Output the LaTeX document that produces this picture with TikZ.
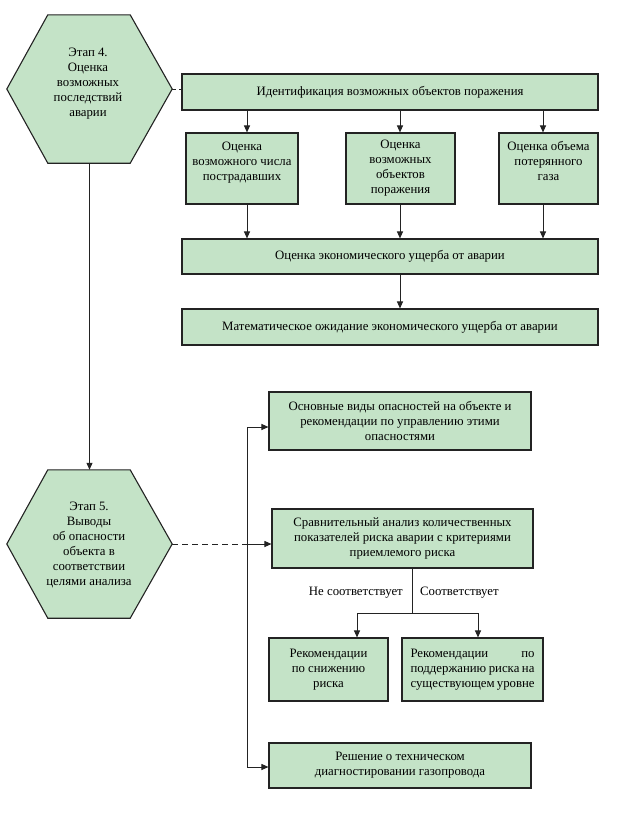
\documentclass[tikz,border=0pt]{standalone}
\usepackage{fontspec}
\setmainfont{Liberation Serif}
\usetikzlibrary{arrows.meta,calc}
\definecolor{boxgreen}{RGB}{196,227,199}
\definecolor{edge}{RGB}{35,35,35}
\tikzset{
  box/.style={draw=edge, line width=1.1pt, fill=boxgreen, align=center, inner sep=2pt,
    font=\fontsize{12.8}{15}\selectfont},
  hexbox/.style={draw=none, minimum width=165pt, minimum height=148pt, inner sep=0pt},
  hexline/.style={draw=edge, line width=1.1pt, fill=boxgreen},
  arr/.style={draw=edge, line width=1pt, -{Triangle[length=7pt,width=6pt]}},
  ln/.style={draw=edge, line width=1pt},
  dsh/.style={draw=edge, line width=1pt, dash pattern=on 6pt off 4pt},
  lbl/.style={font=\fontsize{12.8}{15}\selectfont, inner sep=0pt}
}
\begin{document}
\begin{tikzpicture}[x=1pt,y=-1pt]
\useasboundingbox (0,0) rectangle (624,825);
% hexagons
\node[hexbox] (h4) at (89.5,89) {};
\node[hexbox] (h5) at (89.5,544) {};
\foreach \h in {h4,h5}{
  \draw[hexline] (\h.west) -- ($(\h.north west)+(41,0)$) -- ($(\h.north east)+(-42,0)$)
    -- (\h.east) -- ($(\h.south east)+(-42,0)$) -- ($(\h.south west)+(41,0)$) -- cycle;
}
\node[lbl, align=center] (t4) at (88,84) {Этап 4.\\Оценка\\возможных\\последствий\\аварии};
\node[lbl, align=center] (t5) at (89,545) {Этап 5.\\Выводы\\об опасности\\объекта в\\соответствии\\целями анализа};

% upper boxes
\node[box, minimum width=416pt, minimum height=36pt] (ident) at (390,92) {Идентификация возможных объектов поражения};
\node[box, minimum width=112pt, minimum height=71pt] (b1) at (242,168.5) {Оценка\\возможного числа\\пострадавших\\\mbox{}};
\node[box, minimum width=109pt, minimum height=71pt] (b2) at (400.5,168.5) {Оценка\\возможных\\объектов\\поражения};
\node[box, minimum width=99pt, minimum height=71pt] (b3) at (548.5,168.5) {Оценка объема\\потерянного\\газа\\\mbox{}};
\node[box, minimum width=416pt, minimum height=35pt] (econ) at (390,256.5) {Оценка экономического ущерба от аварии};
\node[box, minimum width=416pt, minimum height=36pt] (math) at (390,327) {Математическое ожидание экономического ущерба от аварии};

% lower boxes
\node[box, minimum width=262pt, minimum height=58pt] (osn) at (400,421) {Основные виды опасностей на объекте и\\рекомендации по управлению этими\\опасностями};
\node[box, minimum width=261pt, minimum height=59pt] (sr) at (402.5,538.5) {Сравнительный анализ количественных\\показателей риска аварии с критериями\\приемлемого риска};
\node[box, minimum width=119pt, minimum height=63pt] (rec1) at (328.5,669.5) {Рекомендации\\по снижению\\риска};
\node[box, minimum width=141pt, minimum height=63pt, align=left] (rec2) at (472.5,669.5) {\makebox[124pt][s]{Рекомендации по}\\\makebox[124pt][s]{поддержанию риска на}\\\makebox[124pt][s]{существующем уровне}};
\node[box, minimum width=262pt, minimum height=45pt] (resh) at (400,765.5) {Решение о техническом\\диагностировании газопровода};

% labels
\node[lbl, anchor=east] (no) at (403,593) {Не соответствует};
\node[lbl, anchor=west] (yes) at (420,593) {Соответствует};

% helper coordinates
\coordinate (xa) at (247,0);
\coordinate (xb) at (400,0);
\coordinate (xc) at (543,0);
\coordinate (xs) at (412,0);
\coordinate (xl) at (357,0);
\coordinate (xr) at (478,0);
\coordinate (ysplit) at (0,613);
\coordinate (ybus1) at (0,427);
\coordinate (ybus3) at (0,767);

% connectors
\draw[dash pattern=on 4pt off 3pt, draw=edge, line width=1pt] (h4.east) -- (ident.west |- h4.east);
\draw[arr] (h4.south) -- (h5.north);
\draw[arr] (ident.south -| xa) -- (b1.north -| xa);
\draw[arr] (ident.south -| xb) -- (b2.north -| xb);
\draw[arr] (ident.south -| xc) -- (b3.north -| xc);
\draw[arr] (b1.south -| xa) -- (econ.north -| xa);
\draw[arr] (b2.south -| xb) -- (econ.north -| xb);
\draw[arr] (b3.south -| xc) -- (econ.north -| xc);
\draw[arr] (econ.south -| xb) -- (math.north -| xb);

% bus
\coordinate (bt) at (xa |- ybus1);
\coordinate (bm) at (xa |- h5.east);
\coordinate (bb) at (xa |- ybus3);
\draw[ln] (bt) -- (bb);
\draw[arr] (bt) -- (osn.west |- bt);
\draw[arr] (bm) -- (sr.west |- bm);
\draw[arr] (bb) -- (resh.west |- bb);
\draw[dsh] (h5.east) -- (bm);

% split
\coordinate (sp) at (xs |- ysplit);
\draw[ln] (sr.south -| xs) -- (sp);
\draw[arr] (sp) -| (rec1.north -| xl);
\draw[arr] (sp) -| (rec2.north -| xr);
\end{tikzpicture}
\end{document}
